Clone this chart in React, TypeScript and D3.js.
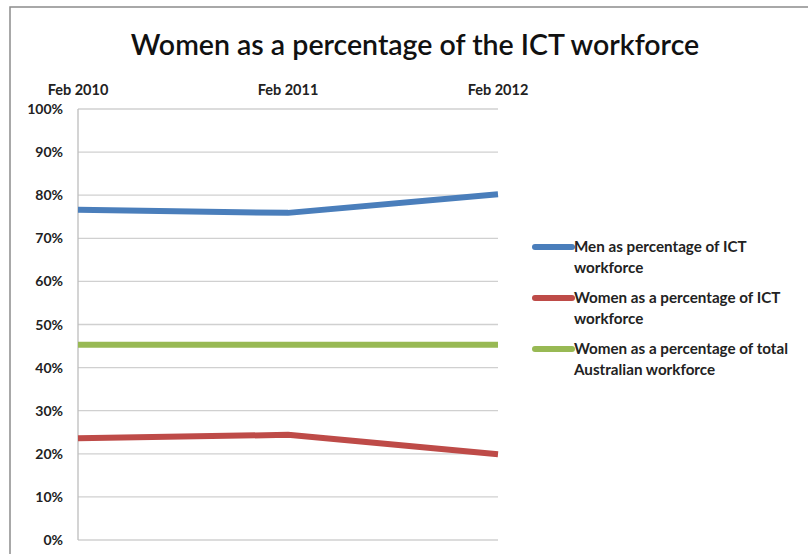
import React from "react";
import * as d3 from "d3";

const categories = ["Feb 2010", "Feb 2011", "Feb 2012"];
const menICT = [76.6, 75.9, 80.2];
const womenICT = [23.6, 24.4, 19.9];
const womenTotal = [45.3, 45.3, 45.3];
const yTicks = [0, 10, 20, 30, 40, 50, 60, 70, 80, 90, 100];
const seriesNames = [
  ["Men as percentage of ICT", "workforce"],
  ["Women as a percentage of ICT", "workforce"],
  ["Women as a percentage of total", "Australian workforce"],
];
const colors = ["#4a7ebb", "#be4b48", "#98b954"];

export default function App() {
  const W = 808, H = 554;
  const left = 78, right = 498, top = 109, bottom = 540;
  const x = d3.scalePoint<string>().domain(categories).range([left, right]);
  const y = d3.scaleLinear().domain([0, 100]).range([bottom, top]);
  const line = d3.line<number>().x((_, i) => x(categories[i]) as number).y((d) => y(d));
  const series = [menICT, womenICT, womenTotal];
  const font = "Lato, 'Open Sans', sans-serif";
  const legendY = [247, 298, 349];
  return (
    <svg width={W} height={H} style={{ position: "absolute", left: 0, top: 0, background: "#fff" }}>
      <rect x={10} y={7} width={820} height={570} fill="#fff" stroke="#8c8c8c" strokeWidth={1.5} />
      <text x={415} y={55} textAnchor="middle" fontFamily={font} fontSize={28.5} fontWeight={600} fill="#111">
        Women as a percentage of the ICT workforce
      </text>
      {yTicks.map((t) => (
        <g key={t}>
          <line x1={left} x2={right} y1={y(t)} y2={y(t)} stroke="#d0d0d0" strokeWidth={1.3} />
          <text x={63} y={y(t) + 5} textAnchor="end" fontFamily={font} fontSize={14} fontWeight={700} fill="#222">
            {t}%
          </text>
        </g>
      ))}
      <line x1={left} x2={left} y1={top} y2={bottom} stroke="#bdbdbd" strokeWidth={1.3} />
      {categories.map((c) => (
        <text key={c} x={x(c) as number} y={95} textAnchor="middle" fontFamily={font} fontSize={14.5} fontWeight={700} fill="#222">
          {c}
        </text>
      ))}
      {series.map((s, i) => (
        <path key={i} d={line(s) || ""} fill="none" stroke={colors[i]} strokeWidth={6} strokeLinejoin="round" />
      ))}
      {seriesNames.map((n, i) => (
        <g key={i}>
          <line x1={535} x2={572} y1={legendY[i]} y2={legendY[i]} stroke={colors[i]} strokeWidth={6} strokeLinecap="round" />
          <text fontFamily={font} fontSize={15.2} fontWeight={700} fill="#222">
            <tspan x={574} y={legendY[i] + 5}>{n[0]}</tspan>
            <tspan x={574} y={legendY[i] + 26}>{n[1]}</tspan>
          </text>
        </g>
      ))}
    </svg>
  );
}
